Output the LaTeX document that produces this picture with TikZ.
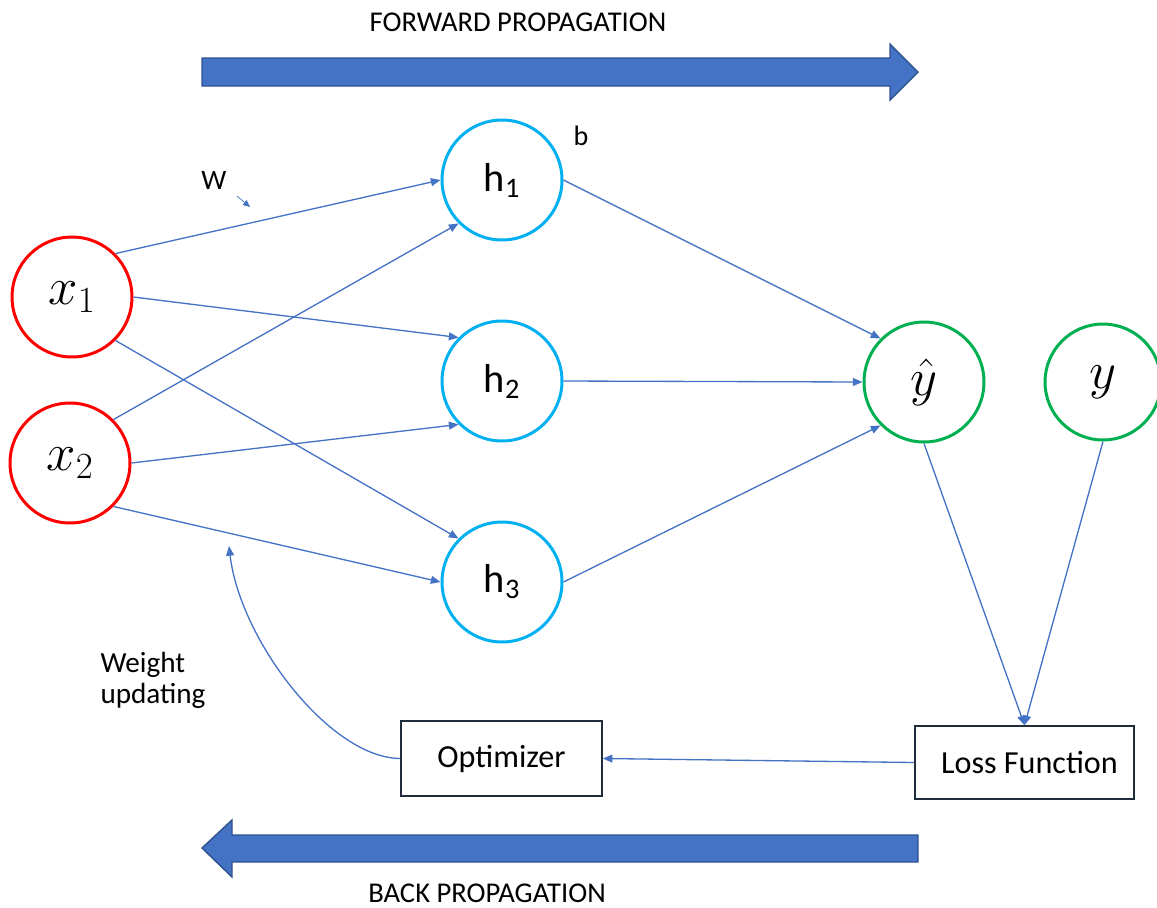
\documentclass[tikz,border=0pt]{standalone}
\usepackage{fix-cm}
\usepackage{fontspec}
\setmainfont{Carlito}
\usepackage{xcolor}
\usetikzlibrary{arrows.meta,positioning}
\definecolor{linkblue}{HTML}{4472C4}
\definecolor{arrowedge}{HTML}{2F528F}
\definecolor{inred}{HTML}{FF0000}
\definecolor{hidcyan}{HTML}{00B0F0}
\definecolor{outgreen}{HTML}{00B050}
\definecolor{boxedge}{HTML}{1F2D3D}

\begin{document}
\begin{tikzpicture}[x=0.02cm,y=-0.02cm,>={Triangle[length=5.5pt,width=4.5pt]},
  neuron/.style={circle,draw,line width=1.7pt,minimum size=2.4cm,inner sep=0pt,fill=white},
  stagebox/.style={draw=boxedge,line width=0.9pt,inner sep=0pt,font=\fontsize{18.3}{22}\selectfont},
  link/.style={draw=linkblue,line width=0.75pt,->},
  bigarrow/.style={fill=linkblue,draw=arrowedge,line width=0.8pt},
  caption/.style={font=\fontsize{16.3}{19}\selectfont}]
\useasboundingbox (0,0) rectangle (1157,907);
% ---- big propagation arrows ----
\draw[bigarrow] (202,58) -- (890,58) -- (890,44) -- (918,72) -- (890,100) -- (890,86) -- (202,86) -- cycle;
\draw[bigarrow] (918,835) -- (232,835) -- (232,820) -- (202,848) -- (232,877) -- (232,862) -- (918,862) -- cycle;
\node[caption] (fwd) at (518,22) {FORWARD PROPAGATION};
\node[caption] (bwd) at (487,893) {BACK PROPAGATION};
% ---- neurons ----
\node[neuron,draw=inred] (x1) at (72,297) {\fontsize{30}{34}\selectfont$x_1$};
\node[neuron,draw=inred] (x2) at (70,463) {\fontsize{30}{34}\selectfont$x_2$};
\node[neuron,draw=hidcyan] (h1) at (502,180) {\fontsize{23}{26}\selectfont h\textsubscript{1}};
\node[neuron,draw=hidcyan] (h2) at (502,381) {\fontsize{23}{26}\selectfont h\textsubscript{2}};
\node[neuron,draw=hidcyan] (h3) at (502,582) {\fontsize{23}{26}\selectfont h\textsubscript{3}};
\node[neuron,draw=outgreen] (yhat) at (924,382) {\fontsize{30}{34}\selectfont$\hat{y}$};
\node[neuron,draw=outgreen,minimum size=2.32cm] (ytrue) at (1103,382) {\fontsize{30}{34}\selectfont$y$};
% ---- boxes ----
\node[stagebox,minimum width=4.38cm,minimum height=1.46cm,text depth=0pt] (loss) at (1024.5,762.5) {\hspace*{0.2cm}Loss Function};
\node[stagebox,minimum width=4.02cm,minimum height=1.5cm] (opt) at (501.5,758.5) {Optimizer};
% ---- labels ----
\node[font=\fontsize{16}{18}\selectfont] (wlab) at (214,180) {W};
\node[font=\fontsize{16}{18}\selectfont] (blab) at (581,136) {b};
\node[font=\fontsize{16.6}{17.5}\selectfont,align=left] (wupd) at (153,680) {Weight\\updating};
\coordinate (wtail) at (237,196);
\coordinate (whead) at (250,207);
\coordinate (wu) at (229,546);
% ---- connectors ----
\draw[draw=linkblue,line width=0.4pt,-{Triangle[length=4pt,width=3.5pt]}] (wtail) -- (whead);
\draw[link] (x1.45) -- (h1.west);
\draw[link] (x1.east) -- (h2.135);
\draw[link] (x1.-45) -- (h3.135);
\draw[link] (x2.45) -- (h1.-135);
\draw[link] (x2.east) -- (h2.-135);
\draw[link] (x2.-45) -- (h3.west);
\draw[link] (h1.east) -- (yhat.135);
\draw[link] (h2.east) -- (yhat.west);
\draw[link] (h3.east) -- (yhat.-135);
\draw[link] (yhat.south) -- (loss.north);
\draw[link] (ytrue.south) -- (loss.north);
\draw[link] (loss.west) -- (opt.east);
\draw[link] (opt.west) .. controls (330,758) and (240,640) .. (wu);
\end{tikzpicture}
\end{document}
